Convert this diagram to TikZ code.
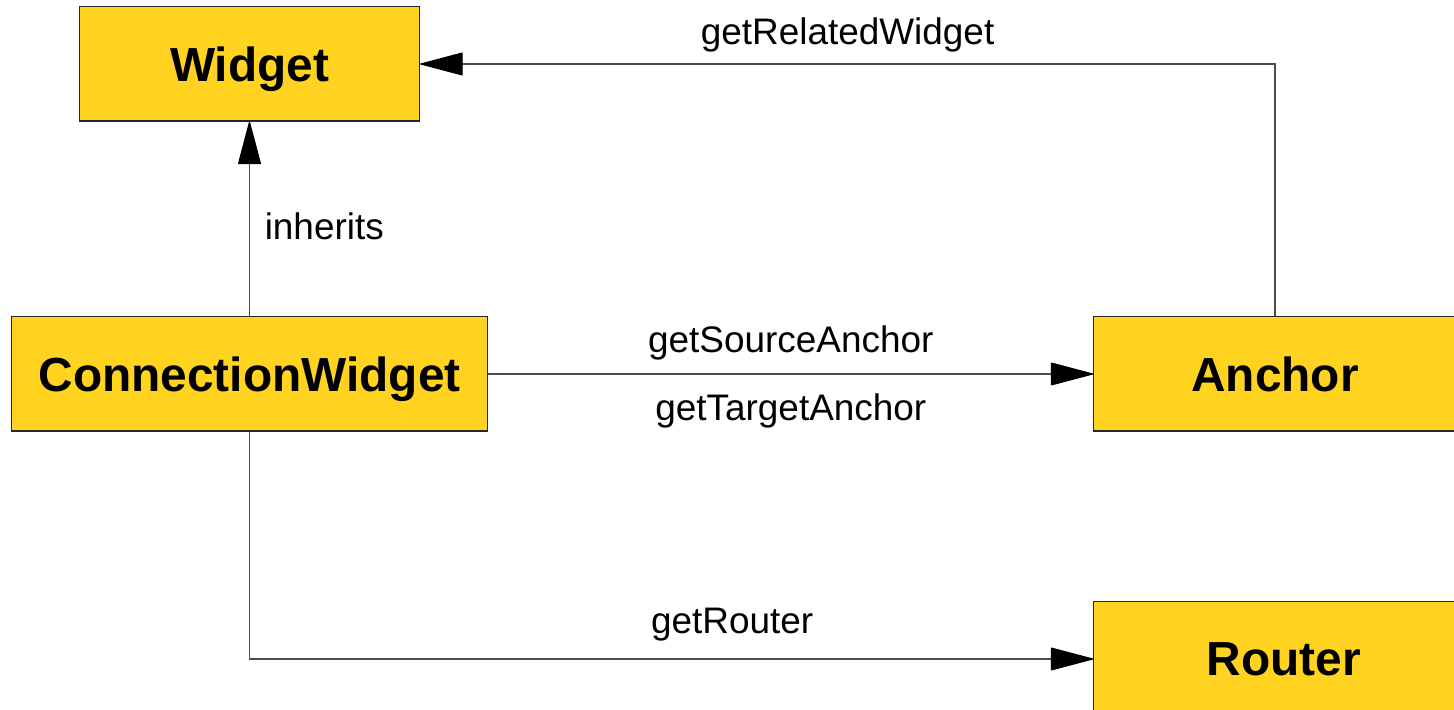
\documentclass[tikz,border=0pt]{standalone}
\usepackage{fontspec}
\setmainfont{Liberation Sans}
\usepackage{tikz}
\usetikzlibrary{arrows.meta}
\usepackage{xcolor}
\definecolor{classyellow}{RGB}{255,211,32}
\tikzset{
  cls/.style={draw=black!85, line width=0.3pt, fill=classyellow, minimum height=1.14cm, inner sep=0pt,
    text depth=0pt, font=\fontsize{13.6}{16}\selectfont\bfseries},
  call/.style={draw=black!70, line width=0.3pt, -{Triangle[length=0.44cm, width=0.23cm, round, color=black]}},
  lbl/.style={font=\fontsize{10.5}{13}\selectfont}
}

\begin{document}
\begin{tikzpicture}[x=0.01cm, y=-0.01cm]
                \useasboundingbox (0,0) rectangle (1454,710);
                \node[cls, minimum width=3.4cm](widget) at (249.5,64){Widget};
                \node[cls, minimum width=4.76cm](connwidget) at (249.5,374){ConnectionWidget};
                \node[cls, minimum width=3.62cm](anchor) at (1275,374){Anchor};
                \node[cls, minimum width=3.8cm](router) at (1284,659){Router};
                \draw[call] (connwidget) -- node [lbl, right, pos=0.46, xshift=0.03cm] {inherits} (widget);
                \draw[call] (connwidget) -- node [lbl, above, yshift=0.02cm] {getSourceAnchor}
                    node [lbl, below, yshift=-0.07cm] {getTargetAnchor} (anchor);
                \draw[call] (anchor) |- node [lbl, above, pos=0.75] {getRelatedWidget} (widget);
                \draw[call] (connwidget) |- node [lbl, above, pos=0.786, yshift=0.06cm] {getRouter} (router);
                
                \end{tikzpicture}
\end{document}
